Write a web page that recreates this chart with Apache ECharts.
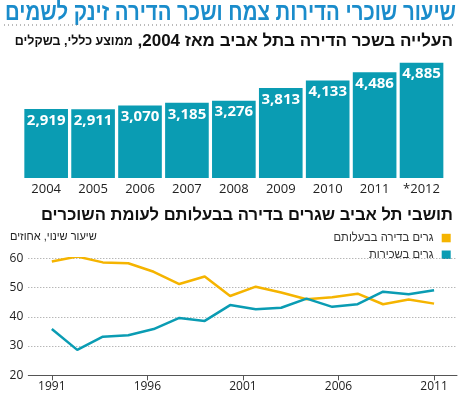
<!DOCTYPE html>
<html>
<head>
<meta charset="utf-8">
<script src="https://cdn.jsdelivr.net/npm/echarts@6/dist/echarts.min.js"></script>
<style>html,body{margin:0;padding:0;background:#fff}#c{width:458px;height:394px}</style>
</head>
<body>
<div id="c"></div>
<script>
// Bar chart: average rent in Tel Aviv (NIS)
var barYears = ['2004','2005','2006','2007','2008','2009','2010','2011','*2012'];
var barValues = [2919, 2911, 3070, 3185, 3276, 3813, 4133, 4486, 4885];

// Line chart: positions of survey points as years since 1991
var lineX = [0, 1.33, 2.67, 4, 5.33, 6.67, 8, 9.33, 10.67, 12, 13.33, 14.67, 16, 17.33, 18.67, 20];
var owners = [58.9, 60.6, 58.6, 58.3, 55.4, 51.2, 53.8, 47.1, 50.3, 48.3, 46.0, 46.7, 47.9, 44.3, 45.9, 44.5];
var renters = [35.8, 28.7, 33.2, 33.7, 35.8, 39.6, 38.6, 44.0, 42.6, 43.1, 46.2, 43.4, 44.3, 48.6, 47.7, 49.1];
var lineTicks = [0, 5, 10, 15, 20];

var titleText = 'שיעור שוכרי הדירות צמח ושכר הדירה זינק לשמים';
var subText1 = 'העלייה בשכר הדירה בתל אביב מאז 2004';
var subText2 = 'ממוצע כללי, בשקלים';
var title2Text = 'תושבי תל אביב שגרים בדירה בבעלותם לעומת השוכרים';
var ownersName = 'גרים בדירה בבעלותם';
var rentersName = 'גרים בשכירות';
var unitText = 'שיעור שינוי, אחוזים';

var FONT = 'Liberation Sans';
var NUMFONT = 'Open Sans';
var TEAL = '#0a9cb3';
var YELLOW = '#f5b400';

function pairs(xs, ys) { return xs.map(function (x, i) { return [x, ys[i]]; }); }
function fitScale(text, font, width) {
  var ctx = document.createElement('canvas').getContext('2d');
  ctx.font = font;
  return width / ctx.measureText(text).width;
}
var titleFont = 'bold 24px "' + FONT + '"';
var titleScale = fitScale(titleText, titleFont, 451);
var t2Font = 'bold 17px "' + FONT + '"';
var t2Scale = fitScale(title2Text, t2Font, 412);
var lgFont = '12.5px "' + FONT + '"';
var lgScale = fitScale(ownersName, lgFont, 100);

var chart = echarts.init(document.getElementById('c'), null, { renderer: 'canvas' });
chart.setOption({
  animation: false,
  textStyle: { fontFamily: FONT },
  graphic: [
    { type: 'text', x: 456, y: 13, scaleX: titleScale,
      style: { text: titleText, fill: '#1a8ccb', font: titleFont, align: 'right', verticalAlign: 'middle' } },
    { type: 'line', shape: { x1: 4, y1: 25, x2: 456, y2: 25 }, style: { stroke: '#777', lineWidth: 1, lineDash: [1, 3] } },
    { type: 'text', right: 5, top: 33, style: {
        rich: {
          b: { font: 'bold 17px "' + FONT + '"', fill: '#111' },
          s: { font: 'bold 12.5px "' + FONT + '"', fill: '#111' }
        },
        text: '{s|' + subText2 + '}{b| ,}{b|' + subText1 + '}'
      } },
    { type: 'text', x: 453, y: 215, scaleX: t2Scale,
      style: { text: title2Text, fill: '#111', font: t2Font, align: 'right', verticalAlign: 'middle' } },
    { type: 'text', left: 10, top: 231, style: { text: unitText, fill: '#222', font: '11px "' + FONT + '"' } },
    // legend
    { type: 'rect', shape: { x: 441.7, y: 233.8, width: 9, height: 8.5 }, style: { fill: YELLOW } },
    { type: 'rect', shape: { x: 441.7, y: 250.5, width: 9, height: 8.5 }, style: { fill: TEAL } },
    { type: 'text', x: 433.5, y: 238, scaleX: lgScale,
      style: { text: ownersName, fill: '#333', font: lgFont, align: 'right', verticalAlign: 'middle' } },
    { type: 'text', x: 433.5, y: 254.7, scaleX: lgScale,
      style: { text: rentersName, fill: '#333', font: lgFont, align: 'right', verticalAlign: 'middle' } }
  ],
  grid: [
    { left: 22.7, right: 13, top: 60, bottom: 216 },
    { left: 28.3, right: 1, top: 258.3, bottom: 18.7 }
  ],
  xAxis: [
    { type: 'category', gridIndex: 0, data: barYears,
      axisLine: { show: false }, axisTick: { show: false },
      axisLabel: { interval: 0, margin: 5, fontSize: 13, color: '#222', fontFamily: NUMFONT } },
    { type: 'value', gridIndex: 1, min: -1.23, max: 21.2,
      axisLine: { lineStyle: { color: '#555', width: 1 } },
      axisTick: { show: true, length: 5, lineStyle: { color: '#555' }, customValues: lineTicks },
      axisLabel: { margin: 5, fontSize: 12, color: '#222', fontFamily: NUMFONT, customValues: lineTicks,
        formatter: function (v) { return String(1991 + Math.round(v)); } },
      splitLine: { show: false } }
  ],
  yAxis: [
    { type: 'value', gridIndex: 0, min: 0, max: 5000, show: false, splitLine: { show: false } },
    { type: 'value', gridIndex: 1, min: 20, max: 60, interval: 10,
      axisLine: { show: false }, axisTick: { show: false },
      axisLabel: { margin: 5, fontSize: 12, color: '#222', fontFamily: NUMFONT },
      splitLine: { lineStyle: { color: '#999', type: [1, 2], width: 1 } } }
  ],
  series: [
    { type: 'bar', xAxisIndex: 0, yAxisIndex: 0, data: barValues, barCategoryGap: '7%',
      itemStyle: { color: TEAL },
      label: { show: true, position: 'insideTop', distance: 4, color: '#fff', fontSize: 15, fontWeight: 'bold', fontFamily: NUMFONT,
        formatter: function (p) { return p.value.toLocaleString('en-US'); } } },
    { type: 'line', name: ownersName, xAxisIndex: 1, yAxisIndex: 1, data: pairs(lineX, owners),
      showSymbol: false, symbol: 'none', lineStyle: { color: YELLOW, width: 2.5 } },
    { type: 'line', name: rentersName, xAxisIndex: 1, yAxisIndex: 1, data: pairs(lineX, renters),
      showSymbol: false, symbol: 'none', lineStyle: { color: TEAL, width: 2.5 } }
  ]
});
</script>
</body>
</html>
